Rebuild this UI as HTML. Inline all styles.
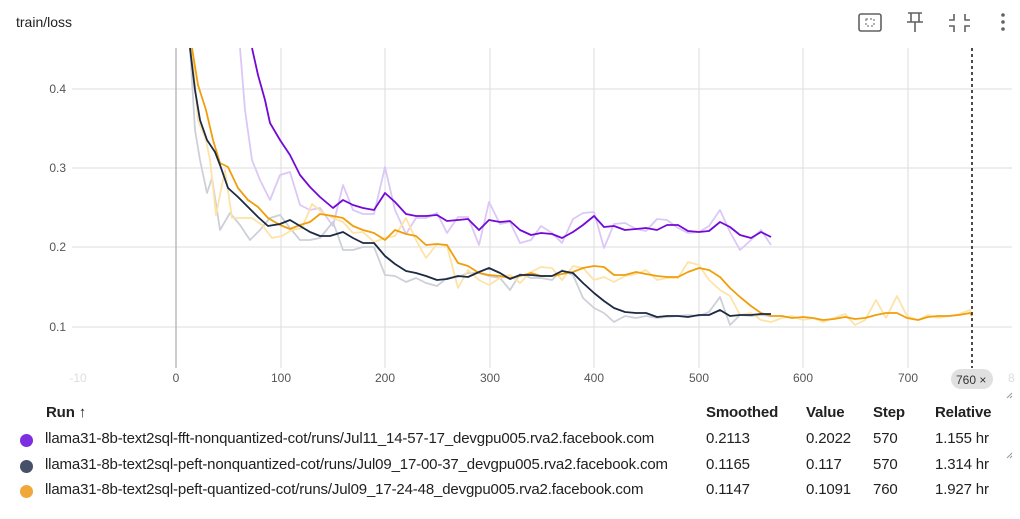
<!DOCTYPE html>
<html><head><meta charset="utf-8"><style>
body{margin:0;width:1020px;height:519px;background:#fff;font-family:"Liberation Sans",sans-serif;color:#212121;position:relative;overflow:hidden}
.t{position:absolute;white-space:nowrap}
.dot{position:absolute;width:13px;height:13px;border-radius:50%}
.r{font-size:15px;letter-spacing:-0.15px}
</style></head><body>
<div class="t" style="left:16px;top:14px;font-size:14px">train/loss</div>
<svg width="1020" height="519" style="position:absolute;left:0;top:0">
<g fill="none" stroke="#616161" stroke-width="1.6">
<rect x="859" y="14" width="22" height="17" rx="2"/>
<rect x="866" y="19" width="8" height="7" stroke-dasharray="2 2" stroke-width="1"/>
<path d="M908 13h14M911 13v9M919 13v9M907 22h16M915 22v10"/>
<path d="M954 14v6h-5M965 14v6h5M954 32v-6h-5M965 32v-6h5"/>
</g>
<circle cx="1003" cy="15" r="1.8" fill="#616161"/><circle cx="1003" cy="22" r="1.8" fill="#616161"/><circle cx="1003" cy="29" r="1.8" fill="#616161"/>
<g stroke="#ddd" stroke-width="1">
<line x1="72" y1="89" x2="1012" y2="89"/><line x1="72" y1="168" x2="1012" y2="168"/><line x1="72" y1="247" x2="1012" y2="247"/><line x1="72" y1="327" x2="1012" y2="327"/>
<line x1="281" y1="48" x2="281" y2="368"/><line x1="385" y1="48" x2="385" y2="368"/><line x1="490" y1="48" x2="490" y2="368"/><line x1="594" y1="48" x2="594" y2="368"/><line x1="699" y1="48" x2="699" y2="368"/><line x1="803" y1="48" x2="803" y2="368"/><line x1="908" y1="48" x2="908" y2="368"/>
</g>
<line x1="176" y1="48" x2="176" y2="368" stroke="#aaa" stroke-width="1.2"/>
<g font-size="12" fill="#555" font-family="Liberation Sans,sans-serif">
<text x="66" y="93" text-anchor="end">0.4</text><text x="66" y="172" text-anchor="end">0.3</text><text x="66" y="251" text-anchor="end">0.2</text><text x="66" y="331" text-anchor="end">0.1</text>
<text x="78" y="382" text-anchor="middle" fill="#ddd">-10</text>
<text x="176" y="382" text-anchor="middle">0</text><text x="281" y="382" text-anchor="middle">100</text><text x="385" y="382" text-anchor="middle">200</text><text x="490" y="382" text-anchor="middle">300</text><text x="594" y="382" text-anchor="middle">400</text><text x="699" y="382" text-anchor="middle">500</text><text x="803" y="382" text-anchor="middle">600</text><text x="908" y="382" text-anchor="middle">700</text>
<text x="1008" y="382" fill="#ddd">8</text>
</g>
<g fill="none" stroke-width="1.8" stroke-linejoin="round">
<polyline stroke="#dcc8f7" points="240,48 245,110 252,160 260,180 270,200 280,175 290,172 300,205 310,210 320,208 333,226 343,185 353,210 363,214 374,214 385,167 395,210 406,234 416,218 426,218 437,213 447,233 458,217 468,217 479,245 489,202 500,224 510,222 520,243 531,240 541,226 552,233 562,243 573,219 583,213 594,212 604,248 614,224 625,223 636,229 646,231 657,219 667,220 678,228 688,233 699,232 709,226 720,210 730,232 740,250 751,240 761,230 771,245"/>
<polyline stroke="#cdd0d8" points="190,48 195,130 200,160 207,193 212,178 220,230 230,213 240,225 250,240 260,230 270,218 280,215 290,228 300,240 310,240 320,238 333,222 343,250 353,250 363,247 374,247 385,275 395,276 406,282 416,278 426,283 437,286 447,278 458,277 468,273 479,273 489,276 500,278 510,290 520,274 531,278 541,278 552,280 562,270 573,275 583,298 594,308 604,313 614,322 625,316 636,318 646,316 657,318 667,317 678,316 688,315 699,316 709,312 720,297 730,325 740,315 751,316 761,315 771,316"/>
<polyline stroke="#fde3a8" points="192,48 198,120 206,140 210,160 216,215 225,170 232,218 242,218 252,218 262,225 272,238 282,236 292,230 302,228 312,204 323,213 333,218 343,222 353,233 363,232 374,242 385,238 395,236 406,218 416,240 426,258 437,244 447,246 458,288 468,270 479,280 489,285 500,278 510,275 520,283 531,272 541,267 552,268 562,280 573,266 583,268 594,280 604,277 614,282 625,276 636,274 646,270 657,280 667,278 678,278 688,262 699,265 709,280 720,290 730,296 740,315 751,313 761,320 771,322 782,318 792,316 803,320 813,318 823,322 834,318 845,314 855,325 865,320 876,300 886,318 897,296 907,316 918,320 928,315 938,318 949,316 959,314 970,310 972,316"/>
<polyline stroke="#7309d6" points="252,48 258,75 265,100 270,123 280,140 290,155 300,175 310,187 320,197 333,208 343,200 353,205 363,208 374,210 385,193 395,202 406,214 416,216 426,216 437,215 447,221 458,220 468,219 479,230 489,220 500,222 510,221 520,230 531,235 541,233 552,234 562,238 573,232 583,225 594,216 604,227 614,226 625,230 636,229 646,228 657,230 667,225 678,225 688,231 699,232 709,231 720,222 730,227 740,235 751,238 761,232 771,237"/>
<polyline stroke="#ef9f0d" points="192,48 198,85 206,110 213,140 220,163 228,167 238,188 248,200 258,207 268,218 280,225 290,229 300,225 310,222 320,214 333,216 343,218 353,226 363,230 374,233 385,240 395,230 406,234 416,236 426,245 437,244 447,245 458,263 468,266 479,273 489,275 500,276 510,278 520,276 531,273 541,276 552,276 562,274 573,272 583,268 594,266 604,267 614,275 625,275 636,272 646,274 657,276 667,277 678,277 688,272 699,268 709,270 720,277 730,288 740,297 751,306 761,313 771,316 782,316 792,318 803,317 813,318 823,320 834,319 845,317 855,319 865,318 876,315 886,313 897,313 907,318 918,320 928,317 938,316 949,316 959,315 970,313 972,316"/>
<polyline stroke="#1c2a44" points="190,48 195,90 200,120 207,140 215,152 220,165 228,188 238,197 248,207 258,217 268,226 280,224 290,220 300,226 310,232 320,236 330,236 343,232 353,238 363,243 374,243 385,256 395,264 406,271 416,273 426,276 437,280 447,279 458,276 468,277 479,272 489,268 500,273 510,279 520,275 531,275 541,276 552,276 562,271 573,273 583,283 594,293 604,301 614,308 625,312 636,313 646,313 657,317 667,316 678,316 688,317 699,315 709,315 720,310 730,316 740,315 751,315 761,314 771,314"/>
</g>
<line x1="972" y1="48" x2="972" y2="368" stroke="#111" stroke-width="1.5" stroke-dasharray="3 3"/>
<rect x="951" y="369" width="42" height="20" rx="10" fill="#e0e0e0"/>
<text x="956" y="384" font-size="12" fill="#333" font-family="Liberation Sans,sans-serif">760 ×</text>
<g stroke="#999" stroke-width="1"><path d="M1007 398l5-5M1010 398l2-2M1007 458l5-5M1010 458l2-2"/></g>
</svg>
<div class="t r" style="left:46px;top:404px;font-weight:bold">Run ↑</div>
<div class="t r" style="left:706px;top:404px;font-weight:bold">Smoothed</div>
<div class="t r" style="left:806px;top:404px;font-weight:bold">Value</div>
<div class="t r" style="left:873px;top:404px;font-weight:bold">Step</div>
<div class="t r" style="left:935px;top:404px;font-weight:bold">Relative</div>
<div class="dot" style="left:20px;top:434px;background:#7c2ee0"></div>
<div class="dot" style="left:20px;top:460px;background:#475069"></div>
<div class="dot" style="left:20px;top:485px;background:#f0a83a"></div>
<div class="t r" style="left:45px;top:430px">llama31-8b-text2sql-fft-nonquantized-cot/runs/Jul11_14-57-17_devgpu005.rva2.facebook.com</div>
<div class="t r" style="left:45px;top:456px">llama31-8b-text2sql-peft-nonquantized-cot/runs/Jul09_17-00-37_devgpu005.rva2.facebook.com</div>
<div class="t r" style="left:45px;top:481px">llama31-8b-text2sql-peft-quantized-cot/runs/Jul09_17-24-48_devgpu005.rva2.facebook.com</div>
<div class="t r" style="left:706px;top:430px">0.2113</div><div class="t r" style="left:806px;top:430px">0.2022</div><div class="t r" style="left:873px;top:430px">570</div><div class="t r" style="left:935px;top:430px">1.155 hr</div>
<div class="t r" style="left:706px;top:456px">0.1165</div><div class="t r" style="left:806px;top:456px">0.117</div><div class="t r" style="left:873px;top:456px">570</div><div class="t r" style="left:935px;top:456px">1.314 hr</div>
<div class="t r" style="left:706px;top:481px">0.1147</div><div class="t r" style="left:806px;top:481px">0.1091</div><div class="t r" style="left:873px;top:481px">760</div><div class="t r" style="left:935px;top:481px">1.927 hr</div>
</body></html>
